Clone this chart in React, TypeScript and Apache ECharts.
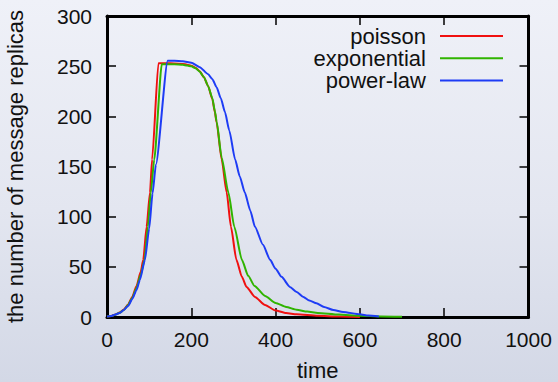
import React, { useEffect, useRef } from "react";
import * as echarts from "echarts";

const seriesNames = ["poisson", "exponential", "power-law"];
const seriesColors = ["#f01010", "#30b400", "#1e3cf5"];

const xTicks = [0, 200, 400, 600, 800, 1000];
const yTicks = [0, 50, 100, 150, 200, 250, 300];

const poissonTime = [0, 10, 20, 30, 40, 50, 60, 70, 80, 86, 94, 102, 107, 122, 140, 160, 180, 190, 200, 210, 220, 230, 240, 250, 256, 260, 272, 284, 294, 307, 320, 331, 351, 375, 400, 425, 450, 500, 550, 600];
const poissonValue = [0.5, 1, 2.5, 4.5, 7.5, 12.5, 20, 31, 45, 57, 90, 124, 157, 253, 253, 252.7, 252.2, 251.5, 250.5, 248.5, 245, 239, 230, 217, 204, 194, 157, 124, 90, 57, 40, 30, 20, 12, 6.5, 4, 2.7, 1.2, 0.4, 0.1];

const exponentialTime = [0, 10, 20, 30, 40, 50, 60, 70, 80, 89, 97, 104, 112, 130, 140, 160, 180, 190, 200, 210, 220, 230, 240, 250, 256, 260, 272, 288, 302, 320, 335, 350, 375, 400, 425, 450, 475, 500, 550, 600, 650, 700];
const exponentialValue = [0.5, 1, 2.3, 4.2, 7, 12, 19, 29, 42, 57, 90, 124, 157, 252, 252, 251.8, 251.3, 250.7, 249.8, 248, 244.5, 239, 230, 218, 205, 195, 159, 124, 90, 57, 41, 31, 21, 14, 10, 7.2, 5.4, 4.1, 2.4, 1.3, 0.6, 0.2];

const powerLawTime = [0, 10, 20, 30, 40, 50, 60, 70, 78, 90, 100, 108, 116, 144, 160, 180, 200, 220, 240, 250, 260, 270, 280, 290, 304, 315, 327, 340, 351, 370, 387, 400, 414, 434, 450, 466, 480, 497, 515, 537, 560, 600, 620, 645];
const powerLawValue = [0.5, 1, 2.5, 4, 7, 11, 18, 27, 37, 57, 88, 123, 152, 255.5, 255.5, 255, 253.5, 249, 242, 237, 229, 218, 204, 186, 157, 140, 124, 106, 90, 72, 57, 48, 40, 30, 25, 20, 16.5, 13.7, 10, 7, 5, 2.7, 1.5, 0.5];

const seriesTimes = [poissonTime, exponentialTime, powerLawTime];
const seriesValues = [poissonValue, exponentialValue, powerLawValue];

const FONT = "'Liberation Sans', Arial, Helvetica, sans-serif";

export default function App() {
  const ref = useRef<HTMLDivElement>(null);

  useEffect(() => {
    document.body.style.margin = "0";
    if (!ref.current) return;
    const chart = echarts.init(ref.current, undefined, { renderer: "svg" });

    const axisLine = { show: true, onZero: false, lineStyle: { color: "#000", width: 3 } };
    const axisTick = { show: true, inside: true, length: 9, lineStyle: { color: "#000", width: 1.5 } };

    chart.setOption({
      animation: false,
      backgroundColor: "transparent",
      grid: {
        left: 107,
        right: 29.5,
        top: 16,
        bottom: 65,
        containLabel: false,
        outerBoundsMode: "none",
      },
      legend: {
        orient: "vertical",
        align: "right",
        right: 55,
        top: 25,
        padding: 0,
        itemGap: 0.3,
        itemWidth: 63,
        itemHeight: 2,
        icon: "rect",
        data: seriesNames,
        textStyle: {
          fontFamily: FONT,
          fontSize: 22,
          color: "#111",
          lineHeight: 18,
          padding: [4, 9, 0, 0],
        },
      },
      xAxis: [
        {
          type: "value",
          position: "bottom",
          min: 0,
          max: 1000,
          interval: 200,
          name: "time",
          nameLocation: "middle",
          nameGap: 42,
          nameTextStyle: { fontFamily: FONT, fontSize: 22, color: "#111" },
          axisLine,
          axisTick,
          splitLine: { show: false },
          axisLabel: {
            margin: 12,
            fontFamily: FONT,
            fontSize: 21,
            color: "#111",
            customValues: xTicks,
            formatter: (v: number) => String(v),
          },
        },
        {
          type: "value",
          position: "top",
          min: 0,
          max: 1000,
          interval: 200,
          axisLine,
          axisTick,
          splitLine: { show: false },
          axisLabel: { show: false },
        },
      ],
      yAxis: [
        {
          type: "value",
          position: "left",
          min: 0,
          max: 300,
          interval: 50,
          name: "the number of message replicas",
          nameLocation: "middle",
          nameGap: 81,
          nameRotate: 90,
          nameTextStyle: { fontFamily: FONT, fontSize: 22, color: "#111" },
          axisLine,
          axisTick,
          splitLine: { show: false },
          axisLabel: {
            margin: 15,
            fontFamily: FONT,
            fontSize: 21,
            color: "#111",
            customValues: yTicks,
            formatter: (v: number) => String(v),
          },
        },
        {
          type: "value",
          position: "right",
          min: 0,
          max: 300,
          interval: 50,
          axisLine,
          axisTick,
          splitLine: { show: false },
          axisLabel: { show: false },
        },
      ],
      series: seriesNames.map((name, i) => ({
        name,
        type: "line",
        xAxisIndex: 0,
        yAxisIndex: 0,
        symbol: "none",
        showSymbol: false,
        smooth: 0.2,
        smoothMonotone: "x",
        color: seriesColors[i],
        lineStyle: { color: seriesColors[i], width: 2 },
        data: seriesTimes[i].map((t, j) => [t, seriesValues[i][j]]),
        z: 1,
      })),
    });

    return () => chart.dispose();
  }, []);

  return (
    <div
      style={{
        position: "fixed",
        left: 0,
        top: 0,
        width: 558,
        height: 382,
        background: "linear-gradient(to bottom, #eff1f8 0%, #e3e6f0 55%, #d3d8e6 100%)",
      }}
    >
      <div ref={ref} style={{ width: 558, height: 382 }} />
    </div>
  );
}
